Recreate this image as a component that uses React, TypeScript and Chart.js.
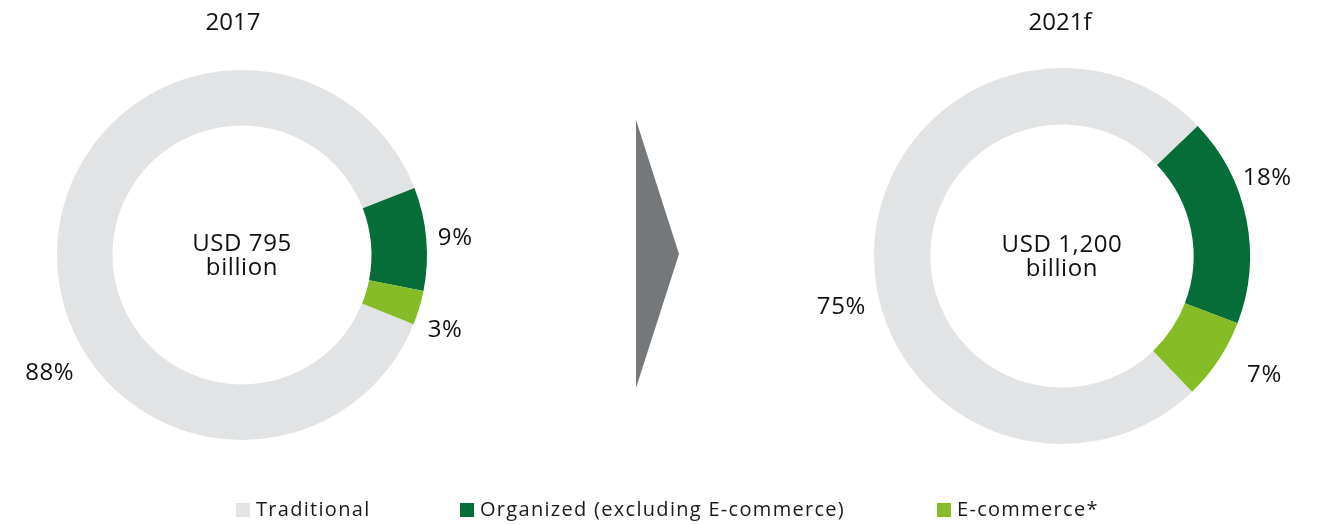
import React, { useEffect, useRef } from "react";
import { Chart, registerables } from "chart.js";

Chart.register(...registerables);

// ---------- data ----------
const categories = ["Traditional", "Organized (excluding E-commerce)", "E-commerce*"];
const years = ["2017", "2021f"];
const shares2017 = [88, 9, 3];
const shares2021 = [75, 18, 7];
const totals = ["USD 795", "USD 1,200"];
const totalUnit = "billion";

// ---------- styles ----------
const colors = ["#e2e3e4", "#066d39", "#86bc25"];
const arrowColor = "#75787b";
const textColor = "#111111";
const FONT = '"Open Sans", "Noto Sans", sans-serif';

type DonutStyle = {
  left: number;
  top: number;
  width: number;
  height: number;
  radius: number;
  rotation: number;
  titleDx: number;
  labelFrac: number[];
  labelDist: number[];
};

const donutStyles: DonutStyle[] = [
  {
    left: 0,
    top: 0,
    width: 484,
    height: 510,
    radius: 185,
    rotation: 112,
    titleDx: -9,
    labelFrac: [0.4, 0.5, 0.8],
    labelDist: [40, 29, 31],
  },
  {
    left: 795,
    top: 0,
    width: 534,
    height: 512,
    radius: 188,
    rotation: 136.2,
    titleDx: -2,
    labelFrac: [0.449, 0.35, 0.36],
    labelDist: [38, 32, 46],
  },
];

const legendSquareLeft = [236, 460, 937];

function Donut({
  values,
  title,
  total,
  style,
}: {
  values: number[];
  title: string;
  total: string;
  style: DonutStyle;
}) {
  const ref = useRef<HTMLCanvasElement | null>(null);

  useEffect(() => {
    if (!ref.current) return;
    const textPlugin = {
      id: "donutText",
      afterDraw(chart: any) {
        const ctx: any = chart.ctx;
        const meta = chart.getDatasetMeta(0);
        const first = meta.data[0] as any;
        if (!first) return;
        const cx = first.x;
        const cy = first.y;
        const fs = 24;
        const capHalf = fs * 0.357;
        ctx.save();
        ctx.fillStyle = textColor;
        ctx.font = `${fs}px ${FONT}`;
        ctx.textAlign = "center";
        ctx.textBaseline = "alphabetic";
        ctx.fillText(title, cx + style.titleDx, 30);
        ctx.letterSpacing = "0.6px";
        ctx.fillText(total, cx, cy - 4);
        ctx.fillText(totalUnit, cx, cy + 20);
        meta.data.forEach((arc: any, i: number) => {
          const p = arc.getProps(["startAngle", "endAngle", "outerRadius", "x", "y"], true);
          const a = p.startAngle + style.labelFrac[i] * (p.endAngle - p.startAngle);
          const d = p.outerRadius + style.labelDist[i];
          const lx = p.x + Math.cos(a) * d;
          const ly = p.y + Math.sin(a) * d;
          ctx.fillText(`${values[i]}%`, lx, ly + capHalf);
        });
        ctx.restore();
      },
    };

    const chart = new Chart(ref.current, {
      type: "doughnut",
      data: {
        labels: categories,
        datasets: [
          {
            data: values,
            backgroundColor: colors,
            borderWidth: 0,
            hoverOffset: 0,
          },
        ],
      },
      options: {
        responsive: false,
        animation: false,
        devicePixelRatio: 1,
        events: [],
        radius: style.radius,
        cutout: "70%",
        rotation: style.rotation,
        layout: { padding: 0 },
        plugins: {
          legend: { display: false },
          tooltip: { enabled: false },
          title: { display: false },
        },
      } as any,
      plugins: [textPlugin],
    });
    return () => chart.destroy();
  }, [values, title, total, style]);

  return (
    <canvas
      ref={ref}
      width={style.width}
      height={style.height}
      style={{
        position: "absolute",
        left: style.left,
        top: style.top,
        width: style.width,
        height: style.height,
      }}
    />
  );
}

export default function App() {
  return (
    <div
      style={{
        position: "absolute",
        left: 0,
        top: 0,
        width: 1329,
        height: 524,
        background: "#ffffff",
        overflow: "hidden",
        fontFamily: FONT,
      }}
    >
      <Donut values={shares2017} title={years[0]} total={totals[0]} style={donutStyles[0]} />
      <Donut values={shares2021} title={years[1]} total={totals[1]} style={donutStyles[1]} />

      <svg
        width={1329}
        height={524}
        style={{ position: "absolute", left: 0, top: 0, pointerEvents: "none" }}
      >
        <polygon points="636,120 679,254 636,388" fill={arrowColor} />
      </svg>

      {categories.map((c, i) => (
        <React.Fragment key={c}>
          <div
            style={{
              position: "absolute",
              left: legendSquareLeft[i],
              top: 503,
              width: 14,
              height: 14,
              background: colors[i],
            }}
          />
          <div
            style={{
              position: "absolute",
              left: legendSquareLeft[i] + 20,
              top: 499,
              fontSize: 20,
              lineHeight: "20px",
              letterSpacing: "1.3px",
              color: "#1a1a1a",
              whiteSpace: "nowrap",
            }}
          >
            {c}
          </div>
        </React.Fragment>
      ))}
    </div>
  );
}
